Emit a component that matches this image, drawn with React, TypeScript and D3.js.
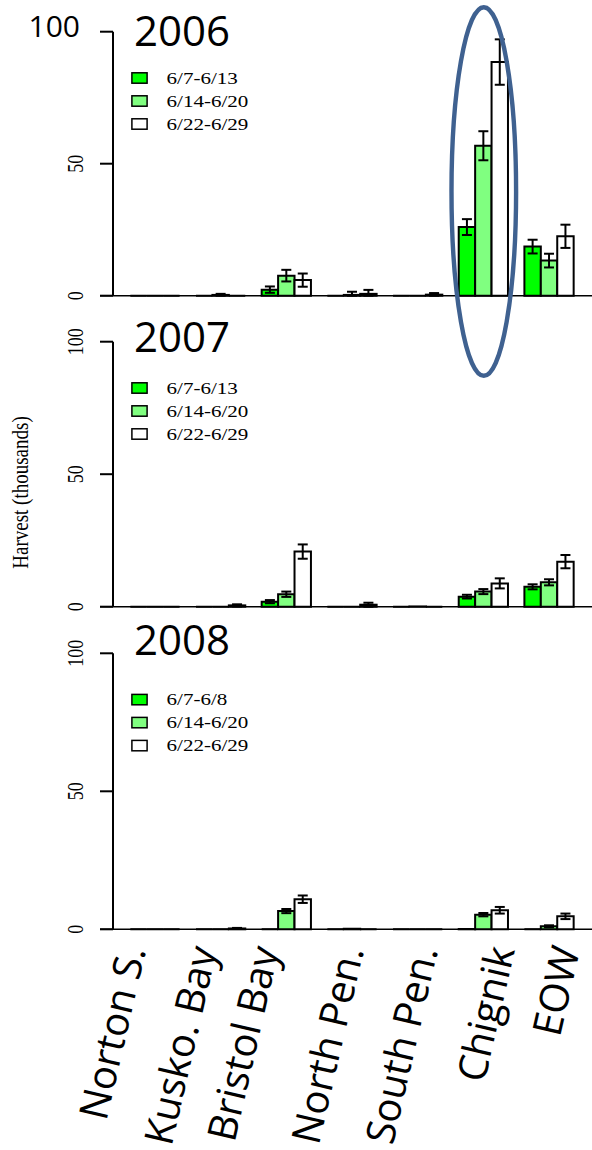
import React from "react";
import * as d3 from "d3";

const regions = ["Norton S.", "Kusko. Bay", "Bristol Bay", "North Pen.", "South Pen.", "Chignik", "EOW"];
const years = ["2006", "2007", "2008"];
const periods2006 = ["6/7-6/13", "6/14-6/20", "6/22-6/29"];
const periods2007 = ["6/7-6/13", "6/14-6/20", "6/22-6/29"];
const periods2008 = ["6/7-6/8", "6/14-6/20", "6/22-6/29"];
const yTicks = [0, 50, 100];

// 2006 harvest (thousands) and +/- error
const h2006p1 = [0, 0, 2.3, 0, 0, 26.0, 18.6];
const h2006p2 = [0, 0.3, 7.6, 0.3, 0, 56.8, 13.3];
const h2006p3 = [0, 0, 5.9, 0.7, 0.4, 88.5, 22.5];
const e2006p1 = [0, 0, 1.2, 0, 0, 3.0, 2.6];
const e2006p2 = [0, 0.4, 2.2, 1.2, 0, 5.5, 2.6];
const e2006p3 = [0, 0, 2.5, 1.5, 0.6, 8.6, 4.4];

// 2007
const h2007p1 = [0, 0, 1.9, 0, 0, 3.8, 7.5];
const h2007p2 = [0, 0, 4.7, 0, 0.1, 5.7, 9.2];
const h2007p3 = [0, 0.5, 20.8, 0.75, 0, 8.8, 17.0];
const e2007p1 = [0, 0, 0.6, 0, 0, 0.7, 0.95];
const e2007p2 = [0, 0, 1.0, 0, 0, 0.95, 1.15];
const e2007p3 = [0, 0.4, 2.7, 0.75, 0, 1.9, 2.5];

// 2008
const h2008p1 = [0, 0, 0, 0, 0, 0.1, 0];
const h2008p2 = [0, 0, 6.6, 0.2, 0, 5.3, 1.1];
const h2008p3 = [0, 0.3, 10.9, 0, 0, 6.9, 4.7];
const e2008p1 = [0, 0, 0, 0, 0, 0, 0];
const e2008p2 = [0, 0, 0.75, 0, 0, 0.6, 0.35];
const e2008p3 = [0, 0.2, 1.35, 0, 0, 1.2, 1.0];

const fills = ["#00ff00", "#80ff80", "#ffffff"];

const panelData = [
  { year: years[0], periods: periods2006, vals: [h2006p1, h2006p2, h2006p3], errs: [e2006p1, e2006p2, e2006p3] },
  { year: years[1], periods: periods2007, vals: [h2007p1, h2007p2, h2007p3], errs: [e2007p1, e2007p2, e2007p3] },
  { year: years[2], periods: periods2008, vals: [h2008p1, h2008p2, h2008p3], errs: [e2008p1, e2008p2, e2008p3] },
];

// layout
const W = 592;
const H = 1150;
const panelLayout = [
  { top: 31.7, bottom: 295.7, titleY: 46 },
  { top: 341.7, bottom: 606.7, titleY: 351.7 },
  { top: 653.3, bottom: 929.3, titleY: 655 },
];
const axisX = 113;
const SX = 1.24; // horizontal stretch of the R graphics
const serif = "'Liberation Serif', 'Times New Roman', serif";
const sans = "'Open Sans', 'Noto Sans', sans-serif";
const labelEndX = [146, 217, 279, 364, 438, 515, 580];
const labelEndY = 950;

const x = d3.scaleLinear().domain([0, regions.length * 4]).range([113.9, 113.9 + regions.length * 4 * 16.42]);

function Panel({ idx }: { idx: number }) {
  const p = panelData[idx];
  const L = panelLayout[idx];
  const y = d3.scaleLinear().domain([0, 100]).range([L.bottom, L.top]);
  const y0 = y(0);
  const bars: React.ReactNode[] = [];
  regions.forEach((r, g) => {
    p.vals.forEach((series, j) => {
      const v = series[g];
      const e = p.errs[j][g];
      const x0 = x(g * 4 + 1 + j);
      const x1 = x(g * 4 + 2 + j);
      const yt = y(v);
      bars.push(
        <path
          key={`b${g}-${j}`}
          d={`M${x0},${y0}V${yt}H${x1}V${y0}Z`}
          fill={fills[j]}
          stroke="#000"
          strokeWidth={2}
        />
      );
      if (e > 0) {
        const cx = (x0 + x1) / 2;
        const ya = y(v + e);
        const yb = y(Math.max(0, v - e));
        bars.push(
          <g key={`e${g}-${j}`} stroke="#000" strokeWidth={2}>
            <line x1={cx} x2={cx} y1={ya} y2={yb} />
            <line x1={cx - 5} x2={cx + 5} y1={ya} y2={ya} />
            <line x1={cx - 5} x2={cx + 5} y1={yb} y2={yb} />
          </g>
        );
      }
    });
  });

  return (
    <g>
      {/* baseline */}
      <line x1={100} x2={W} y1={y0} y2={y0} stroke="#000" strokeWidth={1.5} />
      {bars}
      {/* y axis */}
      <line x1={axisX} x2={axisX} y1={y(0)} y2={y(100)} stroke="#000" strokeWidth={2} />
      {yTicks.map((t) => (
        <line key={`t${t}`} x1={100} x2={axisX} y1={y(t)} y2={y(t)} stroke="#000" strokeWidth={2} />
      ))}
      {yTicks.map((t) =>
        idx === 0 && t === 100 ? (
          <text key={`l${t}`} x={80} y={36.7} textAnchor="end" fontFamily={sans} fontSize={30} fill="#000">
            {t}
          </text>
        ) : (
          <text
            key={`l${t}`}
            transform={`translate(82.5,${y(t)}) scale(${SX},1) rotate(-90)`}
            textAnchor="middle"
            fontFamily={serif}
            fontSize={18}
            fill="#000"
          >
            {t}
          </text>
        )
      )}
      {/* title */}
      <text x={134} y={L.titleY} fontFamily={sans} fontSize={42} fill="#000">
        {p.year}
      </text>
      {/* legend */}
      {p.periods.map((lab, j) => {
        const cy = L.top + 46.3 + j * 23;
        return (
          <g key={`lg${j}`}>
            <rect x={131.9} y={cy - 5.2} width={15.2} height={10.4} fill={fills[j]} stroke="#000" strokeWidth={1.5} />
            <text
              transform={`translate(166.5,${cy + 5.6}) scale(${SX},1)`}
              fontFamily={serif}
              fontSize={17}
              fill="#000"
            >
              {lab}
            </text>
          </g>
        );
      })}
    </g>
  );
}

export default function App() {
  return (
    <svg
      width={W}
      height={H}
      viewBox={`0 0 ${W} ${H}`}
      style={{ position: "absolute", left: 0, top: 0, background: "#fff" }}
    >
      <rect x={0} y={0} width={W} height={H} fill="#fff" />
      {panelData.map((_, i) => (
        <Panel key={i} idx={i} />
      ))}
      {/* y label */}
      <text
        transform={`translate(27.5,492.5) scale(${SX},1) rotate(-90)`}
        textAnchor="middle"
        fontFamily={serif}
        fontSize={19}
        fill="#000"
      >
        Harvest (thousands)
      </text>
      {/* highlight ellipse */}
      <ellipse cx={483.8} cy={191.5} rx={32.3} ry={184.3} fill="none" stroke="#3f6190" strokeWidth={4.4} />
      {/* x labels */}
      {regions.map((r, g) => (
        <text
          key={r}
          transform={`translate(${labelEndX[g]},${labelEndY}) rotate(-77)`}
          textAnchor="end"
          fontFamily={sans}
          fontSize={40}
          fill="#000"
        >
          {r}
        </text>
      ))}
    </svg>
  );
}
